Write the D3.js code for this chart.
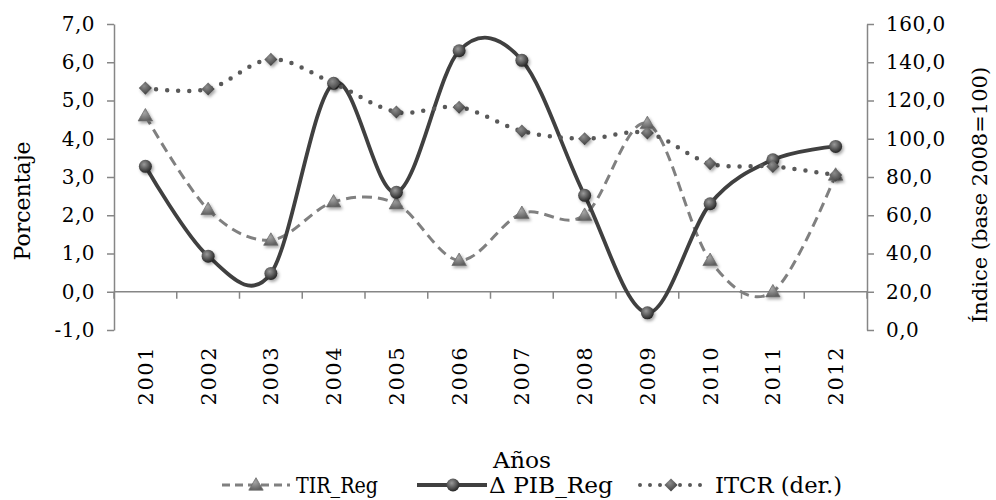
<!DOCTYPE html>
<html>
<head>
<meta charset="utf-8">
<script src="https://cdn.jsdelivr.net/npm/d3@7"></script>
<style>
  body { margin: 0; background: #fff; }
  text { font-family: "DejaVu Serif", serif; fill: #000; }
</style>
</head>
<body>
<svg width="996" height="500"></svg>
<script>
// data
var years = ["2001", "2002", "2003", "2004", "2005", "2006", "2007", "2008", "2009", "2010", "2011", "2012"];
var tirReg = [4.6, 2.15, 1.35, 2.35, 2.3, 0.82, 2.05, 2.0, 4.4, 0.82, 0.0, 3.05];
var pibReg = [3.28, 0.93, 0.48, 5.45, 2.6, 6.3, 6.05, 2.52, -0.55, 2.3, 3.45, 3.8];
var itcr = [126.5, 126, 141.5, 129, 114, 116.5, 104, 100, 103, 87, 85.5, 81];
var leftTicks = [-1, 0, 1, 2, 3, 4, 5, 6, 7];
var rightTicks = [0, 20, 40, 60, 80, 100, 120, 140, 160];

(function () {
    var svg = d3.select("svg");
    var left = 114, right = 867, top = 24, bottom = 330;

    var x = d3.scaleBand().domain(years).range([left, right]).padding(0);
    var yL = d3.scaleLinear().domain([-1, 7]).range([bottom, top]);
    var yR = d3.scaleLinear().domain([0, 160]).range([bottom, top]);

    var fmt = function (d) { return d3.format(".1f")(d).replace(".", ",").replace("\u2212", "-"); };

    var defs = svg.append("defs");
    function grad(id, light, dark) {
        var g = defs.append("radialGradient").attr("id", id)
            .attr("cx", "40%").attr("cy", "35%").attr("r", "65%");
        g.append("stop").attr("offset", "0%").attr("stop-color", light);
        g.append("stop").attr("offset", "100%").attr("stop-color", dark);
    }
    grad("gCircle", "#9a9a9a", "#262626");
    grad("gTri", "#a6a6a6", "#5f5f5f");
    grad("gDia", "#8c8c8c", "#3f3f3f");
    var f = defs.append("filter").attr("id", "shadow").attr("x", "-50%").attr("y", "-50%").attr("width", "200%").attr("height", "200%");
    f.append("feDropShadow").attr("dx", 1.5).attr("dy", 2).attr("stdDeviation", 1.5)
        .attr("flood-color", "#000").attr("flood-opacity", 0.35);

    var axisColor = "#868686";

    // left axis
    var gl = svg.append("g")
        .attr("transform", "translate(" + left + ",0)")
        .call(d3.axisLeft(yL).tickValues(leftTicks).tickFormat(fmt).tickSizeOuter(0).tickSizeInner(7).tickPadding(12));
    // right axis
    var gr = svg.append("g")
        .attr("transform", "translate(" + right + ",0)")
        .call(d3.axisRight(yR).tickValues(rightTicks).tickFormat(fmt).tickSizeOuter(0).tickSizeInner(7).tickPadding(12));
    [gl, gr].forEach(function (g) {
        g.attr("font-family", null).attr("font-size", null);
        g.select(".domain").attr("stroke", axisColor).attr("stroke-width", 1.5);
        g.selectAll(".tick line").attr("stroke", axisColor).attr("stroke-width", 1.5);
        g.selectAll(".tick text").style("font-size", "20px").attr("letter-spacing", "0.5px");
    });

    // category axis on the zero line
    var y0 = yL(0);
    svg.append("line").attr("x1", left).attr("x2", right).attr("y1", y0).attr("y2", y0)
        .attr("stroke", axisColor).attr("stroke-width", 1.5);
    var bounds = years.map(function (d) { return x(d); }).concat([right]);
    svg.selectAll(".xtick").data(bounds).enter().append("line")
        .attr("x1", function (d) { return d; }).attr("x2", function (d) { return d; })
        .attr("y1", y0).attr("y2", y0 + 7)
        .attr("stroke", axisColor).attr("stroke-width", 1.5);
    svg.selectAll(".year").data(years).enter().append("text")
        .attr("transform", function (d) { return "translate(" + (x(d) + x.bandwidth() / 2) + ",346) rotate(-90)"; })
        .attr("text-anchor", "end").attr("dy", "0.36em")
        .style("font-size", "21px").attr("letter-spacing", "1.5px")
        .text(function (d) { return d; });

    // axis titles
    svg.append("text").attr("transform", "translate(22,201) rotate(-90)")
        .attr("text-anchor", "middle").attr("dy", "0.35em").style("font-size", "22px")
        .text("Porcentaje");
    svg.append("text").attr("transform", "translate(980,195) rotate(-90)")
        .attr("text-anchor", "middle").attr("dy", "0.35em").style("font-size", "21px")
        .text("Índice (base 2008=100)");
    svg.append("text").attr("x", 493).attr("y", 460)
        .attr("dy", "0.35em").style("font-size", "22px")
        .attr("textLength", 58).attr("lengthAdjust", "spacingAndGlyphs")
        .text("Años");

    var cx = function (d, i) { return x(years[i]) + x.bandwidth() / 2; };
    var curve = d3.curveCardinal.tension(0);

    // TIR_Reg
    var lineL = d3.line().x(cx).y(function (d) { return yL(d); }).curve(curve);
    svg.append("path").datum(tirReg).attr("d", lineL)
        .attr("fill", "none").attr("stroke", "#808080").attr("stroke-width", 3)
        .attr("stroke-dasharray", "10,6");
    var tri = d3.symbol().type(d3.symbolTriangle).size(90);
    svg.selectAll(".tri").data(tirReg).enter().append("path")
        .attr("d", tri)
        .attr("transform", function (d, i) { return "translate(" + cx(d, i) + "," + (yL(d) + 1) + ")"; })
        .attr("fill", "url(#gTri)").attr("stroke", "#6f6f6f").attr("stroke-width", 0.8)
        .attr("filter", "url(#shadow)");

    // PIB_Reg
    svg.append("path").datum(pibReg).attr("d", lineL)
        .attr("fill", "none").attr("stroke", "#404040").attr("stroke-width", 3.8);
    svg.selectAll(".dot").data(pibReg).enter().append("circle")
        .attr("cx", cx).attr("cy", function (d) { return yL(d); }).attr("r", 6.5)
        .attr("fill", "url(#gCircle)").attr("filter", "url(#shadow)");

    // ITCR (right axis)
    var lineR = d3.line().x(cx).y(function (d) { return yR(d); }).curve(curve);
    svg.append("path").datum(itcr).attr("d", lineR)
        .attr("fill", "none").attr("stroke", "#595959").attr("stroke-width", 4.5)
        .attr("stroke-linecap", "round").attr("stroke-dasharray", "0,11");
    var dia = d3.symbol().type(d3.symbolDiamond2).size(110);
    svg.selectAll(".dia").data(itcr).enter().append("path")
        .attr("d", dia)
        .attr("transform", function (d, i) { return "translate(" + cx(d, i) + "," + yR(d) + ")"; })
        .attr("fill", "url(#gDia)").attr("filter", "url(#shadow)");

    // legend
    var ly = 485;
    var leg = svg.append("g");
    leg.append("line").attr("x1", 222).attr("x2", 290).attr("y1", ly).attr("y2", ly)
        .attr("stroke", "#808080").attr("stroke-width", 3).attr("stroke-dasharray", "8,5");
    leg.append("path").attr("d", tri).attr("transform", "translate(256," + (ly + 1) + ")")
        .attr("fill", "url(#gTri)").attr("stroke", "#6f6f6f").attr("stroke-width", 0.8);
    leg.append("line").attr("x1", 417).attr("x2", 487).attr("y1", ly).attr("y2", ly)
        .attr("stroke", "#404040").attr("stroke-width", 3.8);
    leg.append("circle").attr("cx", 453).attr("cy", ly).attr("r", 6.5).attr("fill", "url(#gCircle)");
    leg.append("line").attr("x1", 640).attr("x2", 704).attr("y1", ly).attr("y2", ly)
        .attr("stroke", "#595959").attr("stroke-width", 4).attr("stroke-linecap", "round")
        .attr("stroke-dasharray", "0,10");
    leg.append("path").attr("d", dia).attr("transform", "translate(671," + ly + ")").attr("fill", "url(#gDia)");

    var legText = [["TIR_Reg", 296, 82], ["Δ PIB_Reg", 489, 124], ["ITCR (der.)", 715, 127]];
    leg.selectAll(".lt").data(legText).enter().append("text")
        .attr("x", function (d) { return d[1]; }).attr("y", ly).attr("dy", "0.35em")
        .attr("textLength", function (d) { return d[2]; }).attr("lengthAdjust", "spacingAndGlyphs")
        .style("font-size", "22px")
        .text(function (d) { return d[0]; });
}());
</script>
</body>
</html>
